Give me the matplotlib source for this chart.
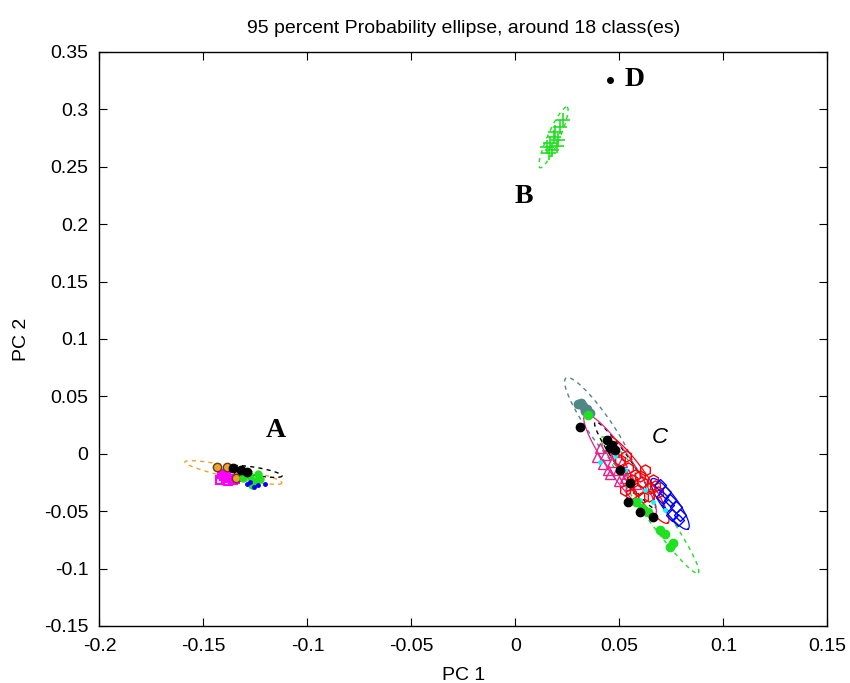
import numpy as np
import matplotlib
matplotlib.use("Agg")
import matplotlib.pyplot as plt

plt.rcParams['font.family'] = ['Liberation Sans', 'DejaVu Sans']

# ---- data ----
x_ticks = [-0.2, -0.15, -0.1, -0.05, 0, 0.05, 0.1, 0.15]
x_ticklabels = ['-0.2', '-0.15', '-0.1', '-0.05', '0', '0.05', '0.1', '0.15']
y_ticks = [-0.15, -0.1, -0.05, 0, 0.05, 0.1, 0.15, 0.2, 0.25, 0.3, 0.35]
y_ticklabels = ['-0.15', '-0.1', '-0.05', '0', '0.05', '0.1', '0.15', '0.2', '0.25', '0.3', '0.35']

# group A
a_orange_x = [-0.1435, -0.1387, -0.1334, -0.1344]
a_orange_y = [-0.0115, -0.0115, -0.0159, -0.0211]
a_magenta_x = [-0.1411, -0.1392, -0.1368, -0.1349, -0.1325, -0.1382, -0.1421, -0.1400, -0.1360]
a_magenta_y = [-0.0176, -0.0211, -0.0193, -0.0220, -0.0202, -0.0237, -0.0228, -0.0190, -0.0225]
a_black_x = [-0.1291, -0.1358, -0.1320]
a_black_y = [-0.0159, -0.0124, -0.0140]
a_green_x = [-0.1310, -0.1276, -0.1252, -0.1267, -0.1228, -0.1240]
a_green_y = [-0.0211, -0.0193, -0.0237, -0.0272, -0.0220, -0.0180]
a_blue_x = [-0.1291, -0.1238, -0.1204, -0.1257, -0.1275]
a_blue_y = [-0.0263, -0.0272, -0.0263, -0.0289, -0.0250]

# group B
b_x = [0.0228, 0.0190, 0.0166, 0.0151, 0.0175, 0.0204, 0.0185, 0.0215, 0.0160, 0.0198]
b_y = [0.2908, 0.2803, 0.2707, 0.2672, 0.2646, 0.2733, 0.2760, 0.2850, 0.2620, 0.2680]

# group C
c_teal_x = [0.0300, 0.0315, 0.0325, 0.0344, 0.0358, 0.0334]
c_teal_y = [0.0434, 0.0445, 0.0416, 0.0390, 0.0355, 0.0373]
c_green_x = [0.0349, 0.0608, 0.0637, 0.0695, 0.0743, 0.0757, 0.0580, 0.0720]
c_green_y = [0.0338, -0.0472, -0.0507, -0.0664, -0.0812, -0.0777, -0.0420, -0.0700]
c_black_x = [0.0310, 0.0440, 0.0464, 0.0480, 0.0502, 0.0550, 0.0599, 0.0661, 0.0455, 0.0540]
c_black_y = [0.0233, 0.0120, 0.0077, 0.0030, -0.0141, -0.0254, -0.0507, -0.0551, 0.0050, -0.0420]
c_magenta_x = [0.0406, 0.0430, 0.0464, 0.0493, 0.0526, 0.0445, 0.0550, 0.0478, 0.0512,
               0.0390, 0.0420, 0.0455, 0.0500, 0.0540, 0.0580]
c_magenta_y = [0.0051, -0.0010, -0.0071, -0.0141, -0.0211, -0.0141, -0.0272, 0.0016, -0.0071,
               -0.0030, -0.0090, -0.0180, -0.0240, -0.0180, -0.0260]
c_red_x = [0.0502, 0.0541, 0.0574, 0.0608, 0.0647, 0.0685, 0.0589, 0.0623, 0.0560, 0.0661, 0.0526,
           0.0530, 0.0600, 0.0640, 0.0670, 0.0555, 0.0615]
c_red_y = [-0.0054, -0.0124, -0.0185, -0.0246, -0.0298, -0.0333, -0.0315, -0.0141, -0.0228, -0.0228,
           -0.0315, -0.0020, -0.0190, -0.0370, -0.0280, -0.0350, -0.0380]
c_blue_x = [0.0695, 0.0719, 0.0743, 0.0772, 0.0791, 0.0752, 0.0733, 0.0781, 0.0705]
c_blue_y = [-0.0272, -0.0333, -0.0402, -0.0463, -0.0533, -0.0533, -0.0446, -0.0577, -0.0380]
c_cyan_x = [0.0406, 0.0526, 0.0623, 0.0599, 0.0719, 0.0480, 0.0660]
c_cyan_y = [-0.0071, -0.0141, -0.0315, -0.0402, -0.0489, -0.0020, -0.0420]

# D
d_x = [0.0454]
d_y = [0.3256]

# ellipses: center, major half-vector, minor half-vector (data units)
ell_centers = [(-0.1356, -0.0163), (-0.1247, -0.0154), (0.0183, 0.2756), (0.0406, 0.0233),
               (0.0647, -0.0446), (0.0527, -0.0098), (0.0503, -0.0098), (0.0589, -0.0228),
               (0.0743, -0.0437)]
ell_major = [(0.0233, -0.0092), (0.0125, -0.0039), (0.0065, 0.0264), (0.0163, -0.0427),
             (0.0231, -0.0592), (0.0144, -0.0375), (0.0168, -0.0436), (0.0144, -0.0375),
             (0.0087, -0.0218)]
ell_minor = [(-0.0006, -0.0047), (-0.0003, -0.0034), (0.0026, -0.0021), (0.0047, 0.0060),
             (0.0039, 0.0050), (0.0028, 0.0035), (0.0047, 0.0060), (0.0039, 0.0050),
             (0.0031, 0.0039)]
ell_colors = ['#f0a030', 'black', '#20e020', '#508888', '#20e020', 'black', '#e8208c', 'red', 'blue']
ell_styles = ['dashed', 'dashed', 'dashed', 'dashed', 'dashed', 'dashed', 'solid', 'solid', 'solid']

fig = plt.figure(figsize=(8.5, 6.83), dpi=100)
ax = fig.add_axes([0.117, 0.0835, 0.8565, 0.8404])

t = np.linspace(0, 2 * np.pi, 120)
for (cx, cy), (mx, my), (nx, ny), col, ls in zip(ell_centers, ell_major, ell_minor, ell_colors, ell_styles):
    ex = cx + mx * np.cos(t) + nx * np.sin(t)
    ey = cy + my * np.cos(t) + ny * np.sin(t)
    if ls == 'dashed':
        ax.plot(ex, ey, color=col, lw=1, linestyle=(0, (3, 3)))
    else:
        ax.plot(ex, ey, color=col, lw=0.9)

# group A
ax.plot(a_magenta_x, a_magenta_y, 's', color='magenta', mfc='none', ms=6, mew=1.5)
ax.plot(a_orange_x, a_orange_y, 'o', mfc='#f0a030', mec='#604010', ms=6)
ax.plot(a_green_x, a_green_y, 'o', color='#20e020', ms=5)
ax.plot(a_blue_x, a_blue_y, '.', color='blue', ms=5)
ax.plot(a_black_x, a_black_y, 'o', color='black', ms=6)

# group B
ax.plot(b_x, b_y, '+', color='#20e020', ms=10, mew=1.2)

# group C
ax.plot(c_teal_x, c_teal_y, 'o', color='#508888', ms=6)
ax.plot(c_magenta_x, c_magenta_y, '^', color='#e8208c', mfc='none', ms=7)
ax.plot(c_red_x, c_red_y, 'h', color='red', mfc='none', ms=8)
ax.plot(c_blue_x, c_blue_y, 'D', color='blue', mfc='none', ms=6)
ax.plot(c_cyan_x, c_cyan_y, '.', color='cyan', ms=5)
ax.plot(c_green_x, c_green_y, 'o', color='#20e020', ms=6)
ax.plot(c_black_x, c_black_y, 'o', color='black', ms=6)

# D
ax.plot(d_x, d_y, '.', color='black', ms=8)

ax.text(0.0525, 0.3256, 'D', family='Liberation Serif', weight='bold', fontsize=20, va='center', ha='left')
ax.text(0.0041, 0.2237, 'B', family='Liberation Serif', weight='bold', fontsize=20, va='center', ha='center')
ax.text(-0.115, 0.0207, 'A', family='Liberation Serif', weight='bold', fontsize=20, va='center', ha='center')
ax.text(0.0695, 0.0146, 'C', style='italic', fontsize=16, va='center', ha='center')

ax.set_xlim(-0.2, 0.15)
ax.set_ylim(-0.15, 0.35)
ax.set_xticks(x_ticks)
ax.set_xticklabels(x_ticklabels)
ax.set_yticks(y_ticks)
ax.set_yticklabels(y_ticklabels)
ax.tick_params(direction='in', top=True, right=True, labelsize=14, length=6)
ax.tick_params(axis='x', pad=9)
ax.tick_params(axis='y', pad=8)
for s in ax.spines.values():
    s.set_linewidth(1)

ax.set_title('95 percent Probability ellipse, around 18 class(es)', fontsize=14, pad=14)
ax.set_xlabel('PC 1', fontsize=14, labelpad=8)
ax.set_ylabel('PC 2', fontsize=14, labelpad=10)

fig.savefig('out.png', dpi=100)
